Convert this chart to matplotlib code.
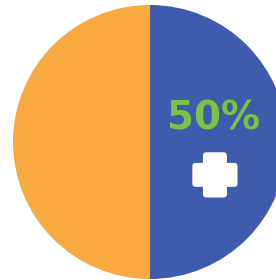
import matplotlib.pyplot as plt
from matplotlib.patches import FancyBboxPatch

# data
labels = ['Other', 'Share']
values = [50, 50]
colors = ['#F9A93F', '#3F5BAE']
pct_label = '50%'

fig = plt.figure(figsize=(2.76, 2.80), dpi=100)
fig.patch.set_facecolor('white')

# circle centre ~ (150, 142) px from top-left, radius ~137 px
W, H = 276, 280
r = 137
ax = fig.add_axes([(150 - r) / W, (H - 142 - r) / H, 2 * r / W, 2 * r / H])
ax.pie(values, colors=colors, startangle=90, counterclock=True,
       radius=1, wedgeprops=dict(linewidth=0))
ax.set_xlim(-1, 1)
ax.set_ylim(-1, 1)
ax.set_aspect('equal')
ax.axis('off')

ax.text(0.465, 0.17, pct_label, color='#7CC243', fontsize=28,
        fontweight='bold', family='DejaVu Sans', ha='center', va='center')

# white plus icon
cx, cy = 0.474, -0.24
s, t = 0.33, 0.175
for w, h in [(s, t), (t, s)]:
    ax.add_patch(FancyBboxPatch((cx - w / 2, cy - h / 2), w, h,
                                boxstyle='round,pad=0,rounding_size=0.025',
                                facecolor='white', edgecolor='none'))

plt.savefig('out.png', dpi=100)
